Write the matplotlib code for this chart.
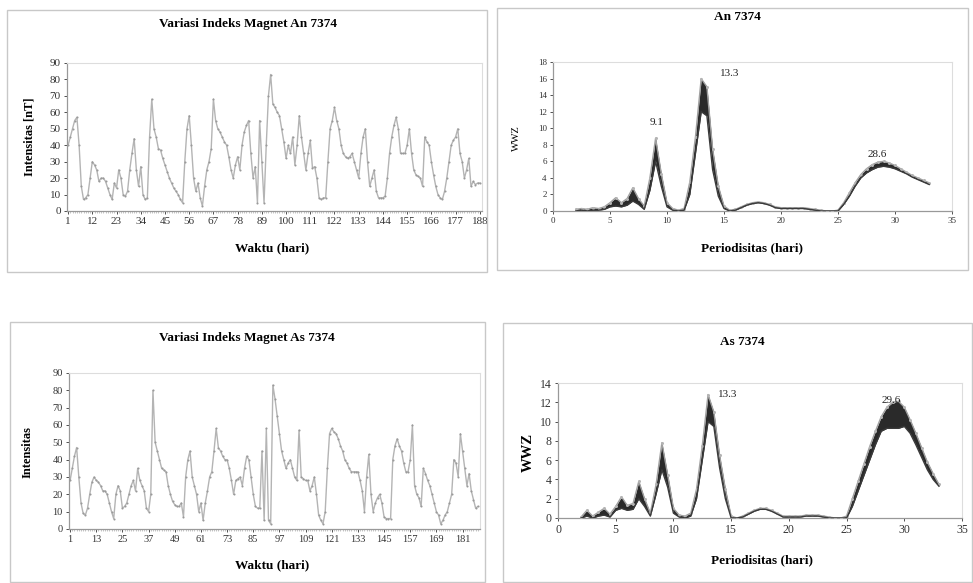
import matplotlib
matplotlib.use("Agg")
import matplotlib.pyplot as plt
from matplotlib.patches import Rectangle
import numpy as np

# ---------------- data ----------------
an_values = [40, 45, 50, 55, 57, 40, 15, 7, 8, 10, 20, 30, 28, 25, 18, 20, 20, 18, 14, 10,
             7, 17, 14, 25, 20, 10, 9, 12, 25, 35, 44, 25, 15, 27, 10, 7, 8, 45, 68, 50,
             45, 38, 37, 32, 28, 24, 20, 17, 14, 12, 10, 7, 5, 30, 50, 58, 40, 20, 12, 17,
             8, 3, 15, 25, 30, 38, 68, 55, 50, 48, 45, 42, 40, 33, 25, 20, 28, 33, 25, 40,
             48, 52, 55, 35, 20, 27, 5, 55, 30, 5, 40, 70, 83, 65, 63, 60, 58, 50, 42, 32,
             40, 35, 45, 28, 40, 58, 45, 35, 25, 35, 43, 26, 27, 20, 8, 7, 8, 8, 30, 50,
             55, 63, 55, 50, 40, 35, 33, 32, 33, 35, 30, 25, 20, 35, 45, 50, 30, 15, 20, 25,
             12, 8, 8, 8, 9, 20, 35, 45, 52, 57, 50, 35, 35, 35, 40, 50, 35, 25, 22, 21,
             20, 15, 45, 42, 40, 30, 22, 15, 10, 8, 7, 12, 20, 30, 40, 43, 45, 50, 35, 30,
             20, 25, 32, 15, 18, 16, 17, 17]
an_ticks = [1, 12, 23, 34, 45, 56, 67, 78, 89, 100, 111, 122, 133, 144, 155, 166, 177, 188]

as_values = [28, 35, 42, 47, 30, 15, 9, 8, 12, 20, 27, 30, 28, 27, 25, 22, 22, 20, 15, 10,
             6, 20, 25, 22, 12, 13, 15, 20, 25, 28, 22, 35, 28, 25, 22, 12, 10, 20, 80, 50,
             45, 40, 35, 34, 33, 25, 20, 16, 14, 13, 13, 15, 7, 30, 40, 45, 30, 25, 20, 10,
             15, 5, 15, 22, 30, 33, 45, 58, 47, 45, 42, 40, 40, 35, 28, 20, 28, 29, 30, 25,
             35, 42, 40, 30, 20, 13, 12, 12, 45, 5, 58, 5, 3, 83, 75, 65, 55, 45, 40, 35,
             38, 40, 35, 30, 28, 57, 30, 29, 28, 28, 22, 25, 30, 20, 8, 5, 3, 10, 35, 55,
             58, 56, 55, 52, 48, 45, 40, 38, 35, 33, 33, 33, 33, 28, 22, 10, 30, 43, 20, 10,
             15, 18, 20, 15, 7, 6, 6, 6, 40, 48, 52, 48, 45, 38, 33, 33, 40, 60, 25, 20,
             18, 13, 35, 32, 28, 25, 20, 15, 10, 8, 3, 5, 8, 10, 15, 20, 40, 38, 30, 55,
             45, 35, 25, 32, 22, 17, 12, 13]
as_ticks = [1, 13, 25, 37, 49, 61, 73, 85, 97, 109, 121, 133, 145, 157, 169, 181]

period = [2.0, 2.5, 3.0, 3.5, 4.0, 4.5, 5.0, 5.5, 6.0, 6.5, 7.0, 7.5, 8.0, 8.5, 9.0, 9.5,
          10.0, 10.5, 11.0, 11.5, 12.0, 12.5, 13.0, 13.5, 14.0, 14.5, 15.0, 15.5, 16.0, 16.5,
          17.0, 17.5, 18.0, 18.5, 19.0, 19.5, 20.0, 20.5, 21.0, 21.5, 22.0, 22.5, 23.0, 23.5,
          24.0, 24.5, 25.0, 25.5, 26.0, 26.5, 27.0, 27.5, 28.0, 28.5, 29.0, 29.5, 30.0, 30.5,
          31.0, 31.5, 32.0, 32.5, 33.0]

wwz_an_max = [0.2, 0.3, 0.2, 0.4, 0.3, 0.5, 1.0, 1.6, 1.0, 1.5, 2.8, 1.5, 0.6, 4.0, 8.8, 4.5,
              1.0, 0.3, 0.1, 0.3, 3.5, 9.0, 16.0, 15.0, 7.5, 3.0, 0.6, 0.1, 0.2, 0.5,
              0.8, 1.0, 1.1, 1.0, 0.8, 0.5, 0.4, 0.4, 0.4, 0.4, 0.4, 0.3, 0.2, 0.1,
              0.0, 0.0, 0.1, 1.0, 2.2, 3.4, 4.4, 5.1, 5.6, 5.9, 6.0, 5.8, 5.5, 5.1,
              4.7, 4.3, 4.0, 3.7, 3.4]
wwz_an_min = [0.0, 0.1, 0.0, 0.1, 0.1, 0.2, 0.5, 0.6, 0.5, 0.7, 1.2, 0.8, 0.2, 2.5, 6.0, 3.0,
              0.5, 0.1, 0.0, 0.1, 2.0, 7.0, 12.0, 11.5, 5.0, 1.8, 0.3, 0.0, 0.1, 0.4,
              0.7, 0.9, 1.0, 0.9, 0.7, 0.4, 0.3, 0.3, 0.3, 0.3, 0.3, 0.2, 0.1, 0.0,
              0.0, 0.0, 0.0, 0.8, 1.8, 3.0, 4.0, 4.6, 5.0, 5.3, 5.4, 5.3, 5.1, 4.8,
              4.5, 4.1, 3.8, 3.5, 3.2]

wwz_as_max = [0.1, 0.8, 0.2, 0.6, 1.0, 0.4, 1.2, 2.2, 1.3, 1.5, 3.8, 2.0, 0.5, 3.5, 7.8, 4.5,
              1.0, 0.3, 0.2, 0.5, 3.0, 7.5, 12.8, 11.0, 6.5, 3.0, 0.2, 0.0, 0.2, 0.5,
              0.8, 1.0, 1.0, 0.8, 0.5, 0.2, 0.2, 0.2, 0.2, 0.3, 0.3, 0.3, 0.2, 0.1,
              0.0, 0.0, 0.2, 2.0, 3.8, 5.6, 7.4, 9.0, 10.5, 11.5, 12.0, 12.1, 11.5, 10.2,
              8.8, 7.3, 5.8, 4.6, 3.5]
wwz_as_min = [0.0, 0.2, 0.0, 0.2, 0.3, 0.1, 0.8, 1.0, 0.8, 0.9, 2.0, 1.2, 0.2, 2.5, 5.0, 3.2,
              0.5, 0.1, 0.0, 0.2, 2.0, 6.0, 10.0, 9.5, 5.2, 2.0, 0.0, 0.0, 0.1, 0.4,
              0.7, 0.9, 0.9, 0.7, 0.4, 0.1, 0.1, 0.1, 0.1, 0.2, 0.2, 0.2, 0.1, 0.0,
              0.0, 0.0, 0.0, 1.2, 2.8, 4.4, 6.0, 7.6, 9.0, 9.3, 9.3, 9.3, 9.5, 8.8,
              7.6, 6.3, 5.0, 4.0, 3.3]

an_peaks = [(9.1, 10.7, "9.1"), (15.5, 16.6, "13.3"), (28.4, 6.8, "28.6")]
as_peaks = [(14.7, 12.8, "13.3"), (28.9, 12.2, "29.6")]

# ---------------- style ----------------
plt.rcParams['font.family'] = ['Liberation Serif', 'DejaVu Serif']
W, H = 973, 583
fig = plt.figure(figsize=(W / 100, H / 100), dpi=100)
fig.patch.set_facecolor('white')


def fx(px):
    return px / W


def fy(py):
    return 1 - py / H


def box(x0, y0, x1, y1):
    fig.patches.append(Rectangle((fx(x0), fy(y1)), fx(x1) - fx(x0), fy(y0) - fy(y1),
                                 transform=fig.transFigure, fill=False,
                                 edgecolor='#c8c8c8', linewidth=1.0))


def style_axes(ax, tsize):
    for s in ['top', 'right']:
        ax.spines[s].set_color('#dddddd')
        ax.spines[s].set_linewidth(0.8)
    for s in ['left', 'bottom']:
        ax.spines[s].set_color('#999999')
        ax.spines[s].set_linewidth(0.9)
    ax.tick_params(labelsize=tsize, colors='#333333', length=2.5, width=0.6, pad=2)


def time_panel(rect, values, ticks, title, ylabel, tpos, xlpos, ylpos, tsize):
    ax = fig.add_axes(rect)
    days = np.arange(1, len(values) + 1)
    ax.plot(days, values, color='#b4b4b4', lw=1.0, marker='o', ms=1.5,
            mfc='#9a9a9a', mec='none')
    ax.set_xlim(0.5, len(values) + 1)
    ax.set_ylim(0, 90)
    ax.set_yticks(range(0, 91, 10))
    ax.set_xticks(ticks)
    ax.set_xticks(days, minor=True)
    style_axes(ax, tsize)
    ax.tick_params(axis='x', which='minor', length=1.5, width=0.4, colors='#999999')
    fig.text(fx(tpos[0]), fy(tpos[1]), title, ha='center', va='center',
             fontsize=9.5, fontweight='bold')
    fig.text(fx(xlpos[0]), fy(xlpos[1]), "Waktu (hari)", ha='center', va='center',
             fontsize=9.5, fontweight='bold')
    fig.text(fx(ylpos[0]), fy(ylpos[1]), ylabel, ha='center', va='center',
             fontsize=9, fontweight='bold', rotation=90)
    return ax


def wwz_panel(rect, vmax, vmin, ymax, peaks, title, tpos, xlpos, ylpos, ylsize, ylweight,
              tsize):
    ax = fig.add_axes(rect)
    ax.fill_between(period, vmin, vmax, color='#2a2a2a', lw=0, zorder=2)
    ax.plot(period, vmax, color='#a0a0a0', lw=1.0, marker='o', ms=2.2,
            mfc='#b4b4b4', mec='none', zorder=3)
    ax.plot(period, vmin, color='#3a3a3a', lw=1.0, zorder=3)
    ax.set_xlim(0, 35)
    ax.set_ylim(0, ymax)
    ax.set_xticks(range(0, 36, 5))
    ax.set_yticks(range(0, ymax + 1, 2))
    style_axes(ax, tsize)
    for x, y, t in peaks:
        ax.text(x, y, t, ha='center', va='center', fontsize=8, color='#222222')
    fig.text(fx(tpos[0]), fy(tpos[1]), title, ha='center', va='center',
             fontsize=9.5, fontweight='bold')
    fig.text(fx(xlpos[0]), fy(xlpos[1]), "Periodisitas (hari)", ha='center', va='center',
             fontsize=9.5, fontweight='bold')
    fig.text(fx(ylpos[0]), fy(ylpos[1]), "WWZ", ha='center', va='center',
             fontsize=ylsize, fontweight=ylweight, rotation=90)
    return ax


# panel frames
box(7, 10, 487, 272)
box(497, 8, 968, 270)
box(10, 322, 485, 582)
box(503, 323, 972, 582)

time_panel([fx(67), fy(211), fx(482) - fx(67), fy(63) - fy(211)], an_values, an_ticks,
           "Variasi Indeks Magnet An 7374", "Intensitas [nT]", (248, 24), (272, 248), (30, 137),
           8)
wwz_panel([fx(553), fy(211), fx(952) - fx(553), fy(62) - fy(211)], wwz_an_max, wwz_an_min, 18,
          an_peaks, "An 7374", (737, 17), (752, 248), (516, 138), 7.5, 'normal', 6.5)
time_panel([fx(69), fy(529), fx(480) - fx(69), fy(373) - fy(529)], as_values, as_ticks,
           "Variasi Indeks Magnet As 7374", "Intensitas", (247, 338), (272, 565), (28, 452),
           7.5)
wwz_panel([fx(558), fy(518), fx(962) - fx(558), fy(383) - fy(518)], wwz_as_max, wwz_as_min, 14,
          as_peaks, "As 7374", (742, 342), (762, 560), (528, 452), 10.5, 'bold', 8.5)

fig.savefig("out.png", dpi=100, facecolor='white')
